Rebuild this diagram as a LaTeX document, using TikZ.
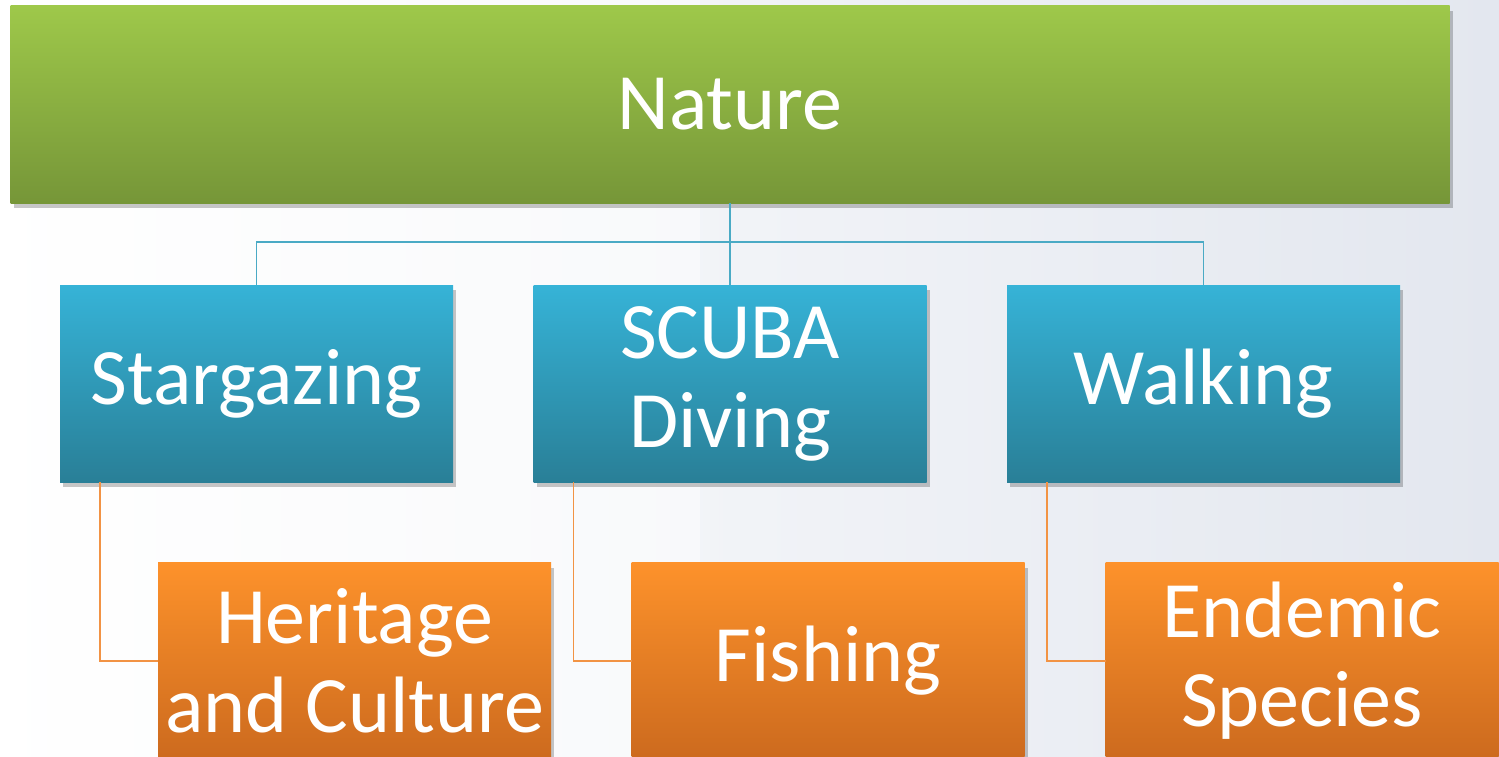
\documentclass[tikz,border=0pt]{standalone}
\usepackage{fontspec}
\setmainfont{Carlito}
\usetikzlibrary{calc,shadows}
\definecolor{grtop}{HTML}{9EC84A}
\definecolor{grbot}{HTML}{769638}
\definecolor{bltop}{HTML}{36B3D7}
\definecolor{blbot}{HTML}{297F97}
\definecolor{ortop}{HTML}{FD922B}
\definecolor{orbot}{HTML}{CC6A1E}
\definecolor{bline}{HTML}{4AAAC5}
\definecolor{oline}{HTML}{F29344}
\definecolor{bgright}{HTML}{E3E7EF}
\begin{document}
\begin{tikzpicture}[x=1pt,y=-1pt,
  box/.style={inner sep=0pt, outer sep=0pt, text=white, align=center,
    font=\fontsize{80}{89}\selectfont,
    drop shadow={shadow xshift=3pt, shadow yshift=-5pt, fill=black, opacity=0.22}},
  rootbox/.style={box, minimum width=1439pt, minimum height=197pt,
    top color=grtop, bottom color=grbot},
  midbox/.style={box, minimum width=393pt, minimum height=197pt,
    top color=bltop, bottom color=blbot},
  leafbox/.style={box, minimum width=393pt, minimum height=197pt,
    top color=ortop, bottom color=orbot},
  bluelink/.style={draw=bline, line width=1.6pt},
  orangelink/.style={draw=oline, line width=1.6pt}]
\useasboundingbox (0,0) rectangle (1499,757);
\clip (0,0) rectangle (1499,757);
% page background
\fill[left color=white, right color=bgright] (0,0) rectangle (1499,757);
\fill[white, opacity=0.5] (0,0) rectangle (700,757);

% boxes
\node[rootbox] (nature) at (730,104.5) {Nature};
\node[midbox] (star)  at (256.5,383.5) {Stargazing};
\node[midbox] (scuba) at (730,383.5) {SCUBA\\Diving};
\node[midbox] (walk)  at (1203.5,383.5) {Walking};
\node[leafbox] (herit) at (354.5,661) {Heritage\\and Culture};
\node[leafbox] (fish)  at (828,661) {Fishing};
\node[leafbox] (endem) at (1302,661) {Endemic\\Species};

% root to second level
\draw[bluelink] (nature.south) -- ++(0,39) -| (star.north);
\draw[bluelink] (nature.south) -- ++(0,39) -| (walk.north);
\draw[bluelink] (nature.south) -- (scuba.north);

% second level to leaves
\draw[orangelink] ($(star.south west)+(40,0)$) |- (herit.west);
\draw[orangelink] ($(scuba.south west)+(40,0)$) |- (fish.west);
\draw[orangelink] ($(walk.south west)+(40,0)$) |- (endem.west);
\end{tikzpicture}
\end{document}
